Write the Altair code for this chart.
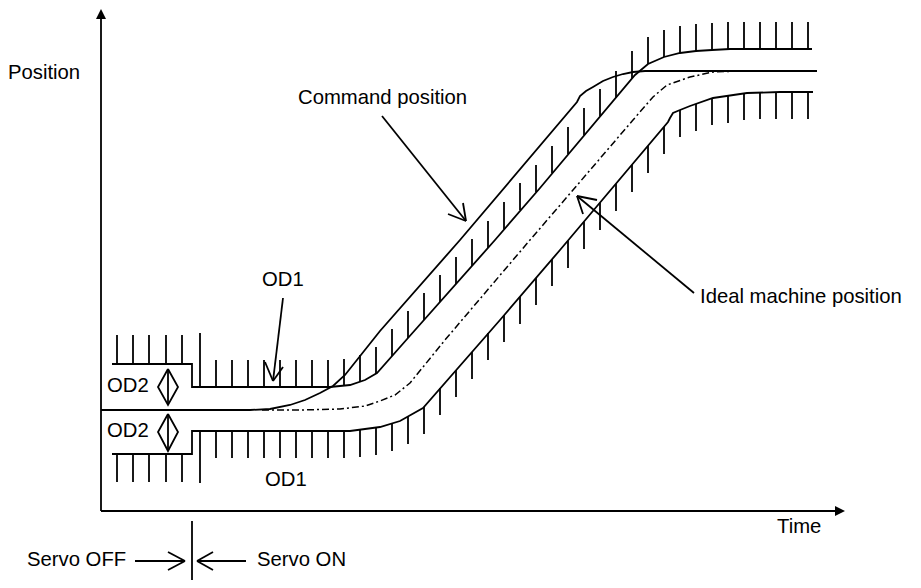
import altair as alt
import pandas as pd

# ---------------- curves (picture coordinates, y grows downward) ----------------
cmd_x = [101, 250, 270, 290, 305, 320, 333, 345, 380, 460, 577, 580, 586, 593, 603, 613, 623, 633, 645, 817]
cmd_y = [410, 410, 409, 405, 400, 393, 386, 375, 331, 240, 102, 96, 91, 87, 81, 77, 74, 72, 71, 71]

upper_x = [112, 192, 192, 330, 350, 365, 377, 408, 495, 540, 635, 648, 664, 680, 696, 712, 730, 812]
upper_y = [364, 364, 387, 387, 385, 380, 373, 338, 240, 188, 75, 64, 57, 53, 51, 50, 49, 49]

lower_x = [112, 192, 192, 350, 380, 400, 423, 500, 560, 668, 670, 673, 680, 690, 713, 747, 780, 813]
lower_y = [454, 454, 431, 431, 427, 421, 408, 320, 250, 122, 118, 113, 110, 106, 98, 93, 92, 92]

ideal_x = [262, 300, 340, 365, 380, 395, 410, 445, 530, 567, 633, 653, 667, 690, 713, 740, 790]
ideal_y = [410, 410, 409, 406, 401, 395, 383, 340, 240, 197, 120, 97, 85, 77, 72, 71, 71]

# OD2 double arrows (diamond outlines)
dia1_x = [168, 178, 168, 158, 168]
dia1_y = [369, 387, 405, 387, 369]
dia2_x = [168, 178, 168, 158, 168]
dia2_y = [414, 432, 451, 432, 414]

# ---------------- hatching ----------------
hatch_x = [216, 232, 248, 264, 280, 296, 312, 328, 344, 360, 376, 392, 408, 424, 440, 456,
           472, 488, 504, 520, 536, 552, 568, 584, 600, 616, 632, 648, 664, 680, 696, 712,
           728, 744, 760, 776, 792, 808]
hatch_up_base = [387, 387, 387, 387, 387, 387, 387, 387, 386, 382, 374, 356, 338, 320, 302, 284,
                 266, 248, 229, 210, 192, 173, 154, 135, 116, 98, 78, 64, 57, 53, 51, 50,
                 49, 49, 49, 49, 49, 49]
hatch_dn_base = [431, 431, 431, 431, 431, 431, 431, 431, 431, 430, 428, 424, 417, 407, 388, 370,
                 352, 333, 315, 297, 278, 259, 241, 222, 203, 184, 165, 146, 127, 110, 104, 98,
                 96, 93, 92, 92, 92, 92]
od2_hatch_x = [117, 133, 149, 166, 182]
HATCH = 27

# ---------------- arrows / guide segments: x1, y1, x2, y2 ----------------
segments = [
    # axes
    (101, 511, 101, 16), (101, 511, 838, 511),
    # tall hatches at the step
    (200, 387, 200, 333), (200, 431, 200, 483),
    # diamond centre lines
    (168, 369, 168, 405), (168, 414, 168, 451),
    # Command position arrow
    (382, 116, 466, 221), (466, 221, 448, 214), (466, 221, 463, 203),
    # Ideal machine position arrow
    (694, 293, 577, 196), (577, 196, 597, 200), (577, 196, 583, 214),
    # OD1 arrow
    (283, 298, 273, 381), (273, 381, 265, 362), (273, 381, 283, 367),
    # Servo OFF / ON
    (192, 521, 192, 587),
    (135, 561, 185, 561), (185, 561, 168, 552), (185, 561, 168, 570),
    (246, 561, 197, 561), (197, 561, 213, 552), (197, 561, 213, 570),
]

labels = ["Position", "Command position", "OD1", "OD2", "OD2", "OD1",
          "Ideal machine position", "Time", "Servo OFF", "Servo ON"]
label_x = [8, 298, 262, 107, 107, 265, 700, 777, 27, 257]
label_y = [73, 98, 280, 386, 431, 480, 297, 527, 560, 560]

# ---------------- build tables ----------------
rows = []
for name, xs_, ys_ in [("cmd", cmd_x, cmd_y), ("upper", upper_x, upper_y),
                       ("lower", lower_x, lower_y), ("d1", dia1_x, dia1_y),
                       ("d2", dia2_x, dia2_y)]:
    for i, (a, b) in enumerate(zip(xs_, ys_)):
        rows.append({"x": a, "y": b, "k": name, "i": i})
solid_df = pd.DataFrame(rows)
ideal_df = pd.DataFrame({"x": ideal_x, "y": ideal_y, "i": list(range(len(ideal_x)))})

seg = [dict(x=a, y=b, x2=c, y2=d) for a, b, c, d in segments]
for hx, hb in zip(hatch_x, hatch_up_base):
    seg.append(dict(x=hx, y=hb, x2=hx, y2=hb - HATCH))
for hx, hb in zip(hatch_x, hatch_dn_base):
    seg.append(dict(x=hx, y=hb, x2=hx, y2=hb + HATCH))
for hx in od2_hatch_x:
    seg.append(dict(x=hx, y=364, x2=hx, y2=364 - 29))
    seg.append(dict(x=hx, y=454, x2=hx, y2=454 + 28))
seg_df = pd.DataFrame(seg)

text_df = pd.DataFrame({"x": label_x, "y": label_y, "t": labels})

xs = alt.Scale(domain=[8, 913], nice=False, zero=False)
ys = alt.Scale(domain=[8, 580], nice=False, zero=False, reverse=True)
X = alt.X("x:Q", scale=xs, axis=None)
Y = alt.Y("y:Q", scale=ys, axis=None)

solid = alt.Chart(solid_df).mark_line(color="black", strokeWidth=1.8).encode(
    x=X, y=Y, detail="k:N", order="i:Q")
ideal = alt.Chart(ideal_df).mark_line(color="black", strokeWidth=1.5,
                                      strokeDash=[7, 3, 2, 3]).encode(x=X, y=Y, order="i:Q")
rules = alt.Chart(seg_df).mark_rule(color="black", strokeWidth=1.8).encode(
    x=X, y=Y, x2="x2:Q", y2="y2:Q")

tri_up = alt.Chart(pd.DataFrame({"x": [101], "y": [14]})).mark_point(
    shape="M0,-1L1,1L-1,1Z", filled=True, color="black", opacity=1, size=100).encode(x=X, y=Y)
tri_rt = alt.Chart(pd.DataFrame({"x": [840], "y": [511]})).mark_point(
    shape="M1,0L-1,-1L-1,1Z", filled=True, color="black", opacity=1, size=100).encode(x=X, y=Y)

texts = alt.Chart(text_df).mark_text(align="left", baseline="middle", font="Liberation Sans",
                                     fontSize=20.3, color="black").encode(x=X, y=Y, text="t:N")

chart = alt.layer(solid, ideal, rules, tri_up, tri_rt, texts).properties(
    width=905, height=572, padding=0, autosize=alt.AutoSizeParams(type="none"),
    background="white"
).configure_view(strokeWidth=0)

chart.save("out.html", embed_options={"renderer": "svg", "actions": False})
